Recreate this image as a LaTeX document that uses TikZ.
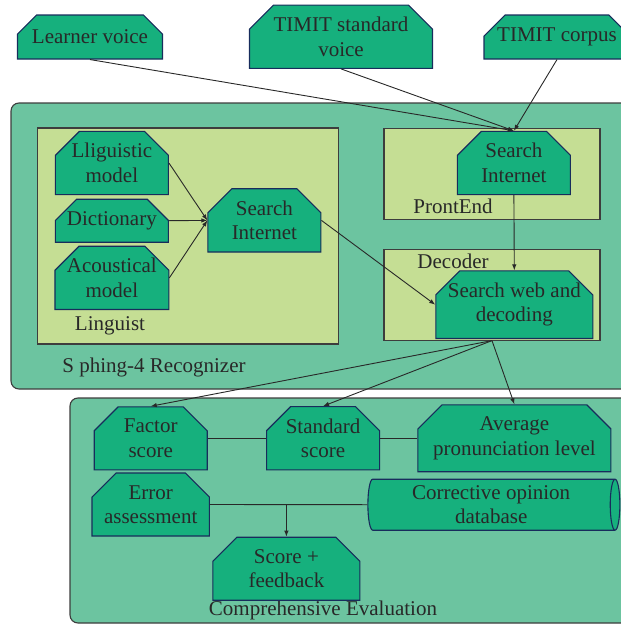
\documentclass[tikz,border=0pt]{standalone}
\usepackage{fontspec}
\setmainfont{Liberation Serif}
\usetikzlibrary{arrows.meta,positioning,shapes.misc,shapes.geometric}
\definecolor{boxgreen}{RGB}{22,176,125}
\definecolor{boxline}{RGB}{24,44,92}
\definecolor{panelgreen}{RGB}{108,196,160}
\definecolor{stagelime}{RGB}{197,222,148}
\definecolor{inkgray}{RGB}{40,40,40}
\tikzset{
  % text of every node
  every node/.append style={font=\fontsize{21}{24.5}\selectfont, text=inkgray},
  % module box with cut top corners
  blk/.style={
    chamfered rectangle,
    chamfered rectangle corners={north west,north east},
    chamfered rectangle xsep=12pt,
    chamfered rectangle ysep=12pt,
    draw=boxline, fill=boxgreen,
    line width=1.1pt, inner sep=0pt, align=center,
    minimum width=113pt, minimum height=63pt
  },
  % database
  cyl/.style={
    cylinder, aspect=0.25,
    draw=boxline, fill=boxgreen,
    line width=1.1pt, inner sep=0pt, align=center
  },
  % big rounded frame
  panel/.style={draw=inkgray!90, fill=panelgreen, line width=1.1pt, rounded corners=8pt},
  % inner stage
  stage/.style={draw=inkgray!90, fill=stagelime, line width=1.1pt, inner sep=0pt},
  % connectors
  link/.style={line width=0.9pt, draw=inkgray},
  arr/.style={link, -{Latex[length=6pt,width=4.5pt]}},
}
\begin{document}
\begin{tikzpicture}[x=1pt,y=-1pt]
    \useasboundingbox (0,0) rectangle (621,627);

    % frames
    \node[panel, minimum width=629pt, minimum height=286pt] (sphinx) at (325.5,246) {};
    \node[panel, minimum width=570pt, minimum height=225pt] (evaluation) at (355,510.5) {};
    \node[stage, minimum width=301pt, minimum height=216pt] (linguist) at (188.1,236) {};
    \node[stage, minimum width=216pt, minimum height=91pt] (frontend) at (492,173.8) {};
    \node[stage, minimum width=216pt, minimum height=90.7pt] (decoder) at (492,294.7) {};

    % frame labels
    \node (lingtxt) at (110,326) {Linguist};
    \node (fronttxt) at (453,206) {ProntEnd};
    \node (dectxt) at (453,261) {Decoder};
    \node (sphinxtxt) at (154,367) {S phing-4 Recognizer};
    \node (evaltxt) at (323,610) {Comprehensive Evaluation};

    % inputs
    \node[blk, minimum width=145pt, minimum height=44pt] (learner) at (90,37) {Learner voice};
    \node[blk, minimum width=183pt] (timitstd) at (341,36.7) {TIMIT standard\\voice};
    \node[blk, minimum width=146pt, minimum height=44pt] (timitcor) at (557,37) {TIMIT corpus};

    % linguist
    \node[blk] (lingmodel) at (111.9,163) {Lliguistic\\model};
    \node[blk, minimum height=43pt] (dict) at (111.9,220.7) {Dictionary};
    \node[blk] (acoust) at (111.9,277.9) {Acoustical\\model};
    \node[blk] (searchL) at (264.4,220.4) {Search\\Internet};

    % front end and decoder
    \node[blk] (searchF) at (513.9,163) {Search\\Internet};
    \node[blk, minimum width=157pt] (searchweb) at (514.3,304.7) {Search web and\\decoding};

    % evaluation
    \node[blk] (factor) at (150.7,438.3) {Factor\\score};
    \node[blk] (standard) at (323.1,438.3) {Standard\\score};
    \node[blk, minimum width=193pt] (average) at (514.4,438.3) {Average\\pronunciation level};
    \node[blk] (error) at (150.7,504.5) {Error\\assessment};
    \node[cyl, minimum height=252pt, minimum width=51pt] (corrective) at (491.2,504.7) {Corrective opinion\\database};
    \node[blk, minimum width=147pt] (score) at (286.4,568.7) {Score +\\feedback};

    % arrows
    \draw[arr] (learner.south) -- (searchF.north);
    \draw[arr] (timitstd.south) -- (searchF.north);
    \draw[arr] (timitcor.south) -- (searchF.north);
    \draw[arr] (lingmodel.east) -- (searchL.west);
    \draw[arr] (dict.east) -- (searchL.west);
    \draw[arr] (acoust.east) -- (searchL.west);
    \draw[arr] (searchL.east) -- (searchweb.west);
    \draw[arr] (searchF.south) -- (searchweb.north);
    \draw[arr] (decoder.south) -- (factor.north);
    \draw[arr] (decoder.south) -- (standard.north);
    \draw[arr] (decoder.south) -- (average.north);
    \draw[link] (factor.east) -- (standard.west);
    \draw[link] (standard.east) -- (average.west);
    \draw[link] (error.east) -- (corrective.west);
    \coordinate (fork) at (score.north |- error.east);
    \draw[arr] (fork) -- (score.north);
\end{tikzpicture}
\end{document}
